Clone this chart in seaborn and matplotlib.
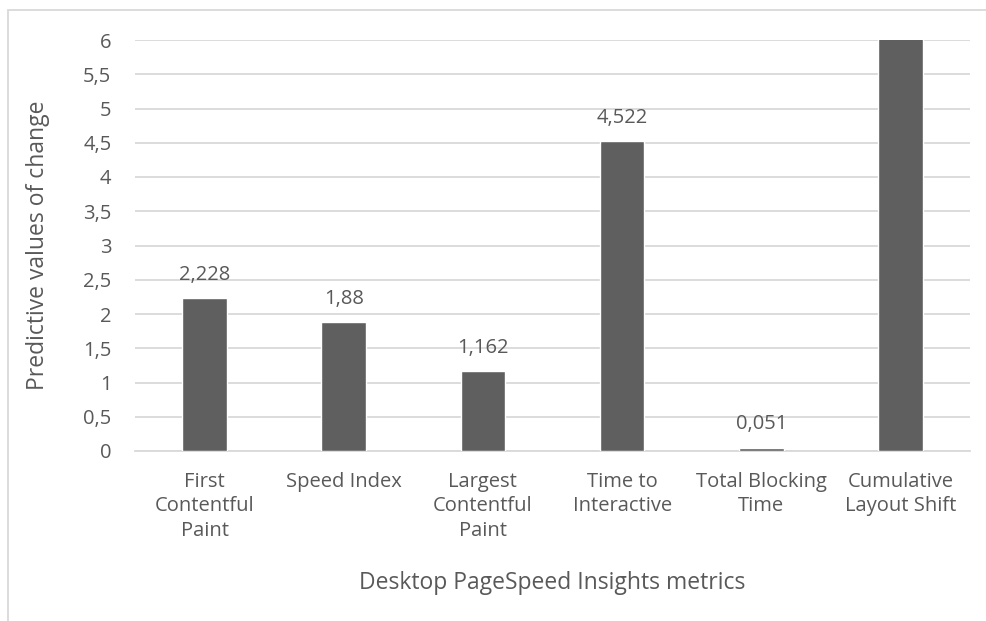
import matplotlib
matplotlib.use("Agg")
import matplotlib.pyplot as plt
import seaborn as sns
import pandas as pd
from matplotlib.patches import Rectangle

categories = [
    "First\nContentful\nPaint",
    "Speed Index",
    "Largest\nContentful\nPaint",
    "Time to\nInteractive",
    "Total Blocking\nTime",
    "Cumulative\nLayout Shift",
]
values = [2.228, 1.88, 1.162, 4.522, 0.051, 6.8]
value_labels = ["2,228", "1,88", "1,162", "4,522", "0,051", ""]
yticks = [0, 0.5, 1, 1.5, 2, 2.5, 3, 3.5, 4, 4.5, 5, 5.5, 6]
ytick_labels = ["0", "0,5", "1", "1,5", "2", "2,5", "3", "3,5", "4", "4,5", "5", "5,5", "6"]

sns.set_theme(style="white")
plt.rcParams["font.family"] = ["Open Sans", "DejaVu Sans"]
text_color = "#595959"
grid_color = "#d9d9d9"

df = pd.DataFrame({"metric": categories, "value": values})

fig = plt.figure(figsize=(9.87, 6.21), dpi=100)
ax = fig.add_axes([135 / 987, 1 - 451 / 621, (970 - 135) / 987, (451 - 40) / 621])

sns.barplot(data=df, x="metric", y="value", color="#5f5f5f", saturation=1,
            width=0.32, ax=ax, zorder=3)

ax.set_ylim(0, 6)
ax.set_yticks(yticks)
ax.set_yticklabels(ytick_labels)
ax.yaxis.grid(True, color=grid_color, linewidth=1.3, zorder=0)
ax.set_axisbelow(True)
for side in ["top", "right", "left"]:
    ax.spines[side].set_visible(False)
ax.spines["bottom"].set_color(grid_color)
ax.spines["bottom"].set_linewidth(1.3)
ax.tick_params(axis="both", length=0, labelsize=14.5, colors=text_color)
ax.tick_params(axis="y", pad=17)
ax.tick_params(axis="x", pad=15)
for lbl in ax.get_xticklabels():
    lbl.set_linespacing(1.3)

ax.set_ylabel("Predictive values of change", fontsize=16.5, color=text_color, labelpad=24)
ax.set_xlabel("Desktop PageSpeed Insights metrics", fontsize=16.5, color=text_color, labelpad=22)

for i, (v, t) in enumerate(zip(values, value_labels)):
    if t:
        ax.text(i, v + 0.2, t, ha="center", va="bottom", fontsize=14.5,
                color=text_color, clip_on=True)

# chart frame
fig.patches.append(Rectangle((8 / 987, -0.05), 1.1, 1 - 10 / 621 + 0.05,
                             transform=fig.transFigure, fill=False,
                             edgecolor=grid_color, linewidth=1.3))

fig.savefig("out.png", dpi=100, facecolor="white")
